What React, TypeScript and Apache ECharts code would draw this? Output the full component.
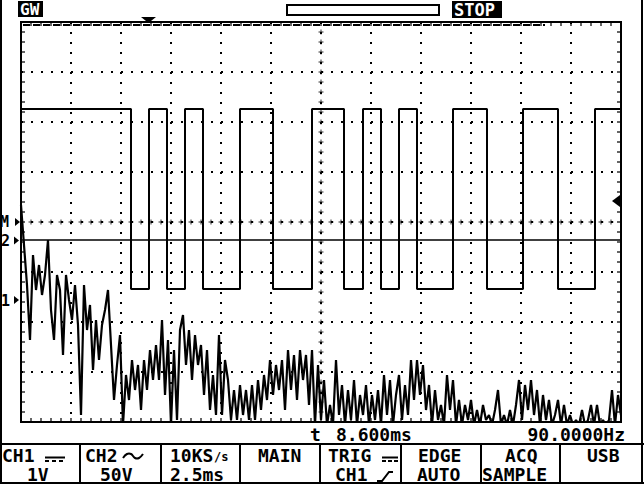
import React, { useEffect, useRef } from "react";
import * as echarts from "echarts";

// ---- screen scales ----
const timeMinMs = -15; // 12 divisions x 2.5 ms/div
const timeMaxMs = 15;
const timePerDivMs = 2.5;
const divMin = -4;
const divMax = 4;

// ---- CH1 : 1 V/div, DC coupled, ground marker "1" ----
const ch1VoltsPerDiv = 1;
const ch1GroundDiv = -1.56;
const ch1StartMs = -15;
const ch1StepMs = 0.15;
const ch1Volts = [
  1.9, 1.1, 0.3, -0.8, 0.9, 0.2, 0.7, 0.1, 0.5, 1.2,
  -0.2, -0.8, 0.5, 0.2, -1.1, 0.5, 0.0, -0.4, 0.3, -0.5,
  -2.3, 0.3, -0.6, -0.1, -1.4, -0.4, -1.2, -0.5, -0.2, 0.2,
  -0.9, -2.0, -1.3, -0.7, -2.5, -1.5, -2.0, -1.2, -1.8, -1.3,
  -2.2, -1.2, -1.8, -1.0, -1.6, -0.9, -1.6, -0.4, -1.9, -0.8,
  -2.5, -1.0, -2.4, -0.6, -0.3, -1.3, -0.6, -1.6, -0.7, -1.3,
  -0.9, -1.9, -1.0, -2.2, -1.5, -2.3, -0.7, -2.3, -1.2, -1.6,
  -2.4, -1.8, -2.4, -1.7, -2.3, -1.8, -2.4, -1.7, -2.4, -1.6,
  -2.2, -1.5, -2.0, -1.2, -1.9, -1.3, -1.8, -1.2, -2.2, -1.0,
  -1.8, -1.1, -2.0, -1.0, -1.6, -1.1, -2.1, -1.0, -2.5, -1.3,
  -2.4, -1.6, -2.5, -2.1, -2.5, -1.2, -2.3, -1.7, -2.5, -1.8,
  -2.4, -1.6, -2.5, -1.9, -2.3, -1.7, -2.5, -1.9, -2.4, -1.8,
  -2.5, -1.5, -2.3, -1.6, -2.5, -1.9, -1.5, -2.4, -1.7, -2.3,
  -1.2, -2.0, -1.2, -1.9, -1.3, -2.2, -1.7, -2.5, -1.8, -2.4,
  -2.1, -2.5, -1.5, -2.2, -1.6, -2.5, -2.0, -2.5, -2.1, -2.4,
  -2.0, -2.5, -2.2, -2.5, -2.1, -2.4, -2.3, -2.5, -2.2, -1.8,
  -2.5, -2.3, -2.5, -2.2, -2.5, -2.1, -1.6, -2.4, -1.7, -2.2,
  -1.6, -2.3, -1.8, -2.5, -1.9, -2.4, -2.0, -2.5, -2.3, -2.0,
  -2.5, -2.1, -2.5, -2.3, -2.5, -2.4, -2.5, -2.2, -2.5, -2.4,
  -2.1, -2.5, -2.1, -2.5, -2.4, -2.5, -2.4, -1.8, -2.5, -1.9,
  -2.3,
];

// ---- CH2 : 50 V/div, AC coupled, ground marker "2" ----
const ch2VoltsPerDiv = 50;
const ch2GroundDiv = -0.36;
const ch2HighV = 131;
const ch2LowV = -49;
const ch2EdgesMs = [
  -9.5, -8.6, -7.7, -6.8, -5.9, -4.05, -2.4, -0.45, 1.15, 2.1,
  3.0, 3.9, 4.8, 6.6, 8.3, 10.1, 11.85, 13.7,
];

// ---- readouts ----
const panelTop = ["CH1", "CH2", "10KS", "MAIN", "TRIG", "EDGE", "ACQ", "USB"];
const panelBottom = ["1V", "50V", "2.5ms", "", "CH1", "AUTO", "SAMPLE", ""];
const triggerOffsetText = "8.600ms";
const frequencyText = "90.0000Hz";

const FONT = 'bold 18px "DejaVu Sans Mono"';
const BLACK = "#000";

export default function App() {
  const ref = useRef<HTMLDivElement>(null);

  useEffect(() => {
    if (!ref.current) return;
    const chart = echarts.init(ref.current, undefined, { renderer: "svg" });

    const ch1Data = ch1Volts.map((v, i) => [
      ch1StartMs + i * ch1StepMs,
      v / ch1VoltsPerDiv + ch1GroundDiv,
    ]);

    const ch2Data: number[][] = [];
    let level = ch2HighV;
    ch2Data.push([timeMinMs, level / ch2VoltsPerDiv + ch2GroundDiv]);
    ch2EdgesMs.forEach((t) => {
      ch2Data.push([t, level / ch2VoltsPerDiv + ch2GroundDiv]);
      level = level === ch2HighV ? ch2LowV : ch2HighV;
      ch2Data.push([t, level / ch2VoltsPerDiv + ch2GroundDiv]);
    });
    ch2Data.push([timeMaxMs, level / ch2VoltsPerDiv + ch2GroundDiv]);

    const ch2Zero = [
      [timeMinMs, ch2GroundDiv],
      [timeMaxMs, ch2GroundDiv],
    ];

    // graticule: 5 minor marks per division
    const minorT = timePerDivMs / 5;
    const crossesH: number[][] = [];
    const topTicks: number[][] = [];
    const bottomTicks: number[][] = [];
    for (let t = timeMinMs + minorT; t < timeMaxMs - 1e-6; t += minorT) {
      crossesH.push([t, 0]);
      topTicks.push([t, divMax]);
      bottomTicks.push([t, divMin]);
    }
    const crossesV: number[][] = [];
    const leftTicks: number[][] = [];
    const rightTicks: number[][] = [];
    for (let d = divMin + 0.2; d < divMax - 1e-6; d += 0.2) {
      crossesV.push([0, d]);
      leftTicks.push([timeMinMs, d]);
      rightTicks.push([timeMaxMs, d]);
    }
    const plus = "path://M2,0H3V2H5V3H3V5H2V3H0V2H2Z";

    const tickSeries = (data: number[][], size: number[], offset: number[]) => ({
      type: "scatter",
      data,
      symbol: "rect",
      symbolSize: size,
      symbolOffset: offset,
      itemStyle: { color: BLACK },
      silent: true,
      z: 1,
    });

    const txt = (text: string, x: number, y: number, extra: any = {}) => ({
      type: "text",
      x,
      y,
      silent: true,
      z: 10,
      style: {
        text,
        font: FONT,
        fill: BLACK,
        align: "left",
        verticalAlign: "middle",
        ...extra,
      },
    });
    const line = (x1: number, y1: number, x2: number, y2: number, w = 2, dash?: number[]) => ({
      type: "line",
      silent: true,
      z: 10,
      shape: { x1, y1, x2, y2 },
      style: { stroke: BLACK, lineWidth: w, lineDash: dash },
    });

    const r1 = 455;
    const r2 = 474;

    const graphic: any[] = [
      // outer frame & panel
      line(1, 0, 1, 484),
      line(642, 0, 642, 484),
      line(0, 444, 644, 444),
      line(0, 483, 644, 483),
      ...[80, 161, 240, 320, 401, 481, 560].map((x) => line(x, 444, x, 484)),
      // top status bar
      { type: "rect", z: 9, silent: true, shape: { x: 18, y: 1, width: 25, height: 16 }, style: { fill: BLACK } },
      txt("GW", 20, 9.5, { fill: "#fff", font: 'bold 16px "DejaVu Sans Mono"' }),
      { type: "rect", z: 9, silent: true, shape: { x: 287, y: 5, width: 152, height: 10 }, style: { fill: "#fff", stroke: BLACK, lineWidth: 2 } },
      { type: "rect", z: 9, silent: true, shape: { x: 452, y: 1, width: 50, height: 17 }, style: { fill: BLACK } },
      txt("STOP", 454, 10, { fill: "#fff", font: 'bold 17px "DejaVu Sans Mono"' }),
      { type: "polygon", z: 10, silent: true, shape: { points: [[141, 17], [156, 17], [151, 21], [146, 21]] }, style: { fill: BLACK } },
      line(23, 25, 545, 25, 2, [7, 3]),
      // left markers
      txt("M", 0, 222, { font: 'bold 15px "DejaVu Sans Mono"' }),
      { type: "polygon", z: 10, silent: true, shape: { points: [[15, 218], [20, 222], [15, 226]] }, style: { fill: BLACK } },
      txt("2", 1, 241, { font: 'bold 15px "DejaVu Sans Mono"' }),
      { type: "polygon", z: 10, silent: true, shape: { points: [[14, 236.5], [19, 240.5], [14, 244.5]] }, style: { fill: BLACK } },
      txt("1", 1, 301, { font: 'bold 15px "DejaVu Sans Mono"' }),
      { type: "polygon", z: 10, silent: true, shape: { points: [[14, 296], [19, 300], [14, 304]] }, style: { fill: BLACK } },
      // right trigger level marker
      { type: "polygon", z: 10, silent: true, shape: { points: [[612, 201], [620, 195], [620, 207]] }, style: { fill: BLACK } },
      // info row
      txt("t", 310, 434),
      txt(triggerOffsetText, 336, 434),
      txt(frequencyText, 625, 434, { align: "right" }),
      // panel texts
      txt(panelTop[0], 2, r1),
      line(45, 457.5, 65, 457.5),
      line(45, 461, 65, 461, 2, [4, 3]),
      txt(panelBottom[0], 27, r2),
      txt(panelTop[1], 85, r1),
      { type: "polyline", z: 10, silent: true, shape: { points: [[123, 458], [127, 454], [131, 454], [135, 458], [139, 458], [143, 454]], smooth: 0.4 }, style: { stroke: BLACK, lineWidth: 2, fill: null } },
      txt(panelBottom[1], 100, r2),
      txt(panelTop[2], 170, r1),
      txt("/s", 214, 457, { font: 'bold 12px "DejaVu Sans Mono"' }),
      txt(panelBottom[2], 170, r2),
      txt(panelTop[3], 258, r1),
      txt(panelTop[4], 328, r1),
      line(382, 457.5, 398, 457.5),
      line(382, 461, 398, 461, 2, [4, 2]),
      txt(panelBottom[4], 335, r2),
      { type: "polyline", z: 10, silent: true, shape: { points: [[377, 481], [382, 481], [389, 472], [393, 472]] }, style: { stroke: BLACK, lineWidth: 2, fill: null } },
      txt(panelTop[5], 418, r1),
      txt(panelBottom[5], 417, r2),
      txt(panelTop[6], 505, r1),
      txt(panelBottom[6], 482, r2),
      txt(panelTop[7], 587, r1),
    ];

    const dotted = { color: BLACK, width: 2, type: [2, 8] };

    chart.setOption({
      animation: false,
      backgroundColor: "#fff",
      grid: {
        left: 21,
        top: 22,
        width: 600,
        height: 400,
        show: true,
        borderColor: BLACK,
        borderWidth: 2,
        backgroundColor: "transparent",
        containLabel: false,
        outerBoundsMode: "none",
      },
      xAxis: {
        type: "value",
        min: timeMinMs,
        max: timeMaxMs,
        interval: timePerDivMs,
        axisLine: { show: false },
        axisTick: { show: false },
        axisLabel: { show: false },
        splitLine: { show: true, lineStyle: dotted },
      },
      yAxis: {
        type: "value",
        min: divMin,
        max: divMax,
        interval: 1,
        axisLine: { show: false },
        axisTick: { show: false },
        axisLabel: { show: false },
        splitLine: { show: true, lineStyle: dotted },
      },
      graphic,
      series: [
        {
          type: "scatter",
          data: [...crossesH, ...crossesV],
          symbol: plus,
          symbolSize: 5,
          itemStyle: { color: BLACK },
          silent: true,
          z: 1,
        },
        tickSeries(topTicks, [1.5, 3], [0, 2.5]),
        tickSeries(bottomTicks, [1.5, 3], [0, -2.5]),
        tickSeries(leftTicks, [3, 1.5], [2.5, 0]),
        tickSeries(rightTicks, [3, 1.5], [-2.5, 0]),
        {
          name: "CH2 ground",
          type: "line",
          data: ch2Zero,
          symbol: "none",
          lineStyle: { color: BLACK, width: 1.5 },
          silent: true,
          z: 3,
        },
        {
          name: "CH2",
          type: "line",
          data: ch2Data,
          symbol: "none",
          lineStyle: { color: BLACK, width: 2 },
          silent: true,
          z: 3,
        },
        {
          name: "CH1",
          type: "line",
          data: ch1Data,
          symbol: "none",
          clip: true,
          lineStyle: { color: BLACK, width: 2.2 },
          silent: true,
          z: 3,
        },
      ],
    });

    return () => chart.dispose();
  }, []);

  return (
    <div
      ref={ref}
      style={{ position: "fixed", left: 0, top: 0, width: 644, height: 484, background: "#fff" }}
    />
  );
}
